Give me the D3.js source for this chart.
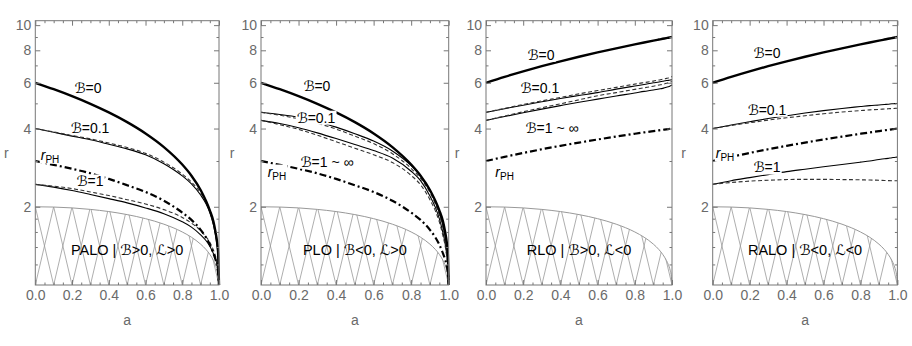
<!DOCTYPE html>
<html>
<head>
<meta charset="utf-8">
<script src="https://cdn.jsdelivr.net/npm/d3@7"></script>
<style>
body { margin: 0; background: #fff; }
text { font-family: "Liberation Sans", Arial, "DejaVu Sans", sans-serif; }
</style>
</head>
<body>
<svg id="chart" width="912" height="346"></svg>
<script>
// spin values shared by every curve
var aGrid = [0, 0.1, 0.2, 0.3, 0.4, 0.5, 0.6, 0.7, 0.8, 0.85, 0.9, 0.93, 0.95, 0.97, 0.98, 0.99, 0.995, 1];

// event horizon (hatched region top)
var horizonR = [2, 1.995, 1.98, 1.954, 1.917, 1.866, 1.8, 1.714, 1.6, 1.527, 1.436, 1.368, 1.312, 1.243, 1.199, 1.141, 1.1, 1];

// B=0 curves
var iscoPro = [6, 5.669, 5.329, 4.979, 4.614, 4.233, 3.829, 3.393, 2.907, 2.634, 2.321, 2.1, 1.937, 1.75, 1.614, 1.455, 1.34, 1];
var iscoRetro = [6, 6.323, 6.639, 6.949, 7.254, 7.555, 7.851, 8.143, 8.432, 8.575, 8.717, 8.802, 8.859, 8.915, 8.944, 8.972, 8.986, 9];

// photon orbit r_PH
var photonPro = [3, 2.9, 2.8, 2.69, 2.56, 2.42, 2.28, 2.11, 1.9, 1.78, 1.63, 1.52, 1.43, 1.32, 1.26, 1.18, 1.12, 1];
var photonRetro = [3, 3.113, 3.221, 3.329, 3.432, 3.532, 3.63, 3.725, 3.819, 3.865, 3.91, 3.937, 3.955, 3.973, 3.982, 3.991, 3.996, 4];

// PALO  (B>0, L>0)
var palo01Solid = [4, 3.87, 3.74, 3.62, 3.48, 3.34, 3.17, 2.93, 2.63, 2.45, 2.22, 2.05, 1.9, 1.7, 1.57, 1.4, 1.28, 1];
var palo01Dashed = [4, 3.88, 3.76, 3.65, 3.52, 3.38, 3.21, 2.97, 2.67, 2.49, 2.26, 2.08, 1.92, 1.72, 1.59, 1.42, 1.29, 1];
var palo1Solid = [2.44, 2.38, 2.31, 2.23, 2.15, 2.07, 1.98, 1.88, 1.75, 1.67, 1.56, 1.48, 1.41, 1.32, 1.27, 1.19, 1.13, 1];
var palo1Dashed = [2.44, 2.4, 2.35, 2.28, 2.21, 2.13, 2.05, 1.95, 1.82, 1.73, 1.62, 1.53, 1.46, 1.36, 1.3, 1.21, 1.14, 1];

// PLO  (B<0, L>0)
var plo01Solid = [4.62, 4.53, 4.42, 4.26, 4.05, 3.82, 3.58, 3.28, 2.88, 2.63, 2.32, 2.08, 1.9, 1.68, 1.55, 1.38, 1.27, 1];
var plo01Dashed = [4.62, 4.5, 4.36, 4.19, 3.98, 3.74, 3.5, 3.2, 2.81, 2.57, 2.27, 2.04, 1.86, 1.65, 1.52, 1.36, 1.26, 1];
var ploInfSolid = [4.3, 4.18, 4.03, 3.85, 3.66, 3.47, 3.29, 3.08, 2.74, 2.52, 2.2, 1.98, 1.8, 1.58, 1.46, 1.3, 1.2, 1];
var ploInfDashed = [4.3, 4.14, 3.97, 3.77, 3.56, 3.36, 3.17, 2.96, 2.64, 2.43, 2.13, 1.92, 1.75, 1.54, 1.43, 1.28, 1.19, 1];

// RLO  (B>0, L<0)
var rlo01Solid = [4.62, 4.77, 4.92, 5.07, 5.22, 5.36, 5.5, 5.67, 5.83, 5.91, 6, 6.04, 6.08, 6.12, 6.13, 6.15, 6.155, 6.16];
var rlo01Dashed = [4.62, 4.78, 4.95, 5.11, 5.27, 5.44, 5.6, 5.76, 5.93, 6.01, 6.09, 6.15, 6.19, 6.24, 6.26, 6.29, 6.31, 6.34];
var rloInfSolid = [4.3, 4.45, 4.6, 4.75, 4.9, 5.05, 5.19, 5.34, 5.48, 5.56, 5.63, 5.68, 5.71, 5.77, 5.79, 5.83, 5.86, 5.89];
var rloInfDashed = [4.3, 4.47, 4.64, 4.81, 4.98, 5.16, 5.35, 5.5, 5.66, 5.74, 5.82, 5.88, 5.92, 5.97, 6, 6.03, 6.05, 6.07];

// RALO  (B<0, L<0)
var ralo01Solid = [4, 4.13, 4.25, 4.37, 4.48, 4.59, 4.69, 4.78, 4.86, 4.9, 4.93, 4.95, 4.96, 4.98, 4.985, 4.99, 4.995, 5];
var ralo01Dashed = [4, 4.11, 4.21, 4.31, 4.4, 4.48, 4.56, 4.63, 4.69, 4.72, 4.74, 4.755, 4.765, 4.775, 4.78, 4.785, 4.787, 4.79];
var ralo1Solid = [2.44, 2.52, 2.59, 2.66, 2.73, 2.79, 2.85, 2.91, 2.97, 3, 3.04, 3.06, 3.07, 3.09, 3.095, 3.1, 3.105, 3.11];
var ralo1Dashed = [2.44, 2.48, 2.51, 2.53, 2.545, 2.55, 2.55, 2.545, 2.54, 2.535, 2.53, 2.525, 2.522, 2.52, 2.52, 2.52, 2.52, 2.52];

// ticks
var xTicks = [0, 0.2, 0.4, 0.6, 0.8, 1];
var xMinorTicks = [0.05, 0.1, 0.15, 0.25, 0.3, 0.35, 0.45, 0.5, 0.55, 0.65, 0.7, 0.75, 0.85, 0.9, 0.95];
var yTicks = [2, 4, 6, 8, 10];
var yMinorTicks = [1.2, 1.4, 1.6, 1.8, 3, 5, 7, 9];

// panels: curves and labels
var panels = [
  { name: "PALO | ℬ>0, ℒ>0",
    curves: [[palo1Solid, "solid"], [palo1Dashed, "dashed"], [photonPro, "dashdot"],
             [palo01Solid, "solid"], [palo01Dashed, "dashed"], [iscoPro, "thick"]],
    labels: [["ℬ=0", 0.287, 5.74], ["ℬ=0.1", 0.298, 4.03], ["rPH", 0.08, 3.17], ["ℬ=1", 0.298, 2.5]] },
  { name: "PLO | ℬ<0, ℒ>0",
    curves: [[photonPro, "dashdot"], [ploInfSolid, "solid"], [ploInfDashed, "dashed"],
             [plo01Solid, "solid"], [plo01Dashed, "dashed"], [iscoPro, "thick"]],
    labels: [["ℬ=0", 0.298, 5.85], ["ℬ=0.1", 0.293, 4.4], ["ℬ=1 ~ ∞", 0.352, 2.98], ["rPH", 0.085, 2.73]] },
  { name: "RLO | ℬ>0, ℒ<0",
    curves: [[photonRetro, "dashdot"], [rloInfSolid, "solid"], [rloInfDashed, "dashed"],
             [rlo01Solid, "solid"], [rlo01Dashed, "dashed"], [iscoRetro, "thick"]],
    labels: [["ℬ=0", 0.296, 7.68], ["ℬ=0.1", 0.29, 5.74], ["ℬ=1 ~ ∞", 0.355, 4.03], ["rPH", 0.1, 2.73]] },
  { name: "RALO | ℬ<0, ℒ<0",
    curves: [[ralo1Solid, "solid"], [ralo1Dashed, "dashed"], [photonRetro, "dashdot"],
             [ralo01Solid, "solid"], [ralo01Dashed, "dashed"], [iscoRetro, "thick"]],
    labels: [["ℬ=0", 0.294, 7.82], ["ℬ=0.1", 0.294, 4.72], ["rPH", 0.067, 3.23], ["ℬ=1", 0.294, 2.83]] }
];

// layout
var panelLeft = [35.3, 261, 486, 712.7];
var panelWidth = [183.7, 187.7, 186, 184.7];
var plotTop = 20.7, plotBottom = 285;

var styles = {
  thick:   { w: 2.4, dash: null, color: "#000" },
  solid:   { w: 1.1, dash: null, color: "#000" },
  dashed:  { w: 1.1, dash: "4,2.5", color: "#333" },
  dashdot: { w: 2.2, dash: "7,3,2,3", color: "#000" }
};

var svg = d3.select("#chart");
var axisGray = "#777";
var labelGray = "#6a6a6a";

var yScale = d3.scaleLog().domain([1, 10.4]).range([plotBottom, plotTop]);

panels.forEach(function(p, i) {
  var x = d3.scaleLinear().domain([0, 1]).range([panelLeft[i], panelLeft[i] + panelWidth[i]]);
  var g = svg.append("g");

  var line = d3.line()
    .x(function(d, k) { return x(aGrid[k]); })
    .y(function(d) { return yScale(d); })
    .curve(d3.curveMonotoneX);

  // clip to horizon region for hatching
  var clipId = "clip" + i;
  var area = d3.area()
    .x(function(d, k) { return x(aGrid[k]); })
    .y0(yScale(1))
    .y1(function(d) { return yScale(d); })
    .curve(d3.curveMonotoneX);
  svg.append("clipPath").attr("id", clipId)
    .append("path").attr("d", area(horizonR));

  var hatch = g.append("g").attr("clip-path", "url(#" + clipId + ")");
  d3.range(0, 10).forEach(function(k) {
    var a0 = k / 10, a1 = (k + 1) / 10;
    hatch.append("line")
      .attr("x1", x(a0)).attr("y1", yScale(2))
      .attr("x2", x(a1)).attr("y2", yScale(1));
    hatch.append("line")
      .attr("x1", x(a1)).attr("y1", yScale(2))
      .attr("x2", x(a0)).attr("y2", yScale(1));
  });
  hatch.selectAll("line").attr("stroke", "#999").attr("stroke-width", 0.8);

  g.append("path")
    .attr("d", line(horizonR))
    .attr("fill", "none")
    .attr("stroke", "#999")
    .attr("stroke-width", 1);

  // curves
  p.curves.forEach(function(c) {
    var s = styles[c[1]];
    g.append("path")
      .attr("d", line(c[0]))
      .attr("fill", "none")
      .attr("stroke", s.color)
      .attr("stroke-width", s.w)
      .attr("stroke-dasharray", s.dash);
  });

  // frame + ticks
  var frame = g.append("g").attr("class", "frame");
  frame.append("g").attr("transform", "translate(0," + plotBottom + ")")
    .call(d3.axisBottom(x).tickValues(xTicks).tickSizeInner(-5).tickSizeOuter(0).tickPadding(5).tickFormat(d3.format(".1f")));
  frame.append("g").attr("transform", "translate(0," + plotBottom + ")")
    .call(d3.axisBottom(x).tickValues(xMinorTicks).tickSizeInner(-2.5).tickSizeOuter(0).tickFormat(""));
  frame.append("g").attr("transform", "translate(0," + plotTop + ")")
    .call(d3.axisTop(x).tickValues(xTicks).tickSizeInner(-5).tickSizeOuter(0).tickFormat(""));
  frame.append("g").attr("transform", "translate(0," + plotTop + ")")
    .call(d3.axisTop(x).tickValues(xMinorTicks).tickSizeInner(-2.5).tickSizeOuter(0).tickFormat(""));
  frame.append("g").attr("transform", "translate(" + panelLeft[i] + ",0)")
    .call(d3.axisLeft(yScale).tickValues(yTicks).tickSizeInner(-5).tickSizeOuter(0).tickPadding(4).tickFormat(d3.format("d")));
  frame.append("g").attr("transform", "translate(" + panelLeft[i] + ",0)")
    .call(d3.axisLeft(yScale).tickValues(yMinorTicks).tickSizeInner(-2.5).tickSizeOuter(0).tickFormat(""));
  frame.append("g").attr("transform", "translate(" + (panelLeft[i] + panelWidth[i]) + ",0)")
    .call(d3.axisRight(yScale).tickValues(yTicks).tickSizeInner(-5).tickSizeOuter(0).tickFormat(""));
  frame.append("g").attr("transform", "translate(" + (panelLeft[i] + panelWidth[i]) + ",0)")
    .call(d3.axisRight(yScale).tickValues(yMinorTicks).tickSizeInner(-2.5).tickSizeOuter(0).tickFormat(""));
  frame.selectAll(".domain").remove();
  frame.selectAll("line").attr("stroke", axisGray);
  frame.selectAll("text").attr("fill", labelGray).attr("font-size", 14)
    .attr("font-family", "'Liberation Sans', Arial, sans-serif");

  frame.append("rect")
    .attr("x", panelLeft[i]).attr("y", plotTop)
    .attr("width", panelWidth[i]).attr("height", plotBottom - plotTop)
    .attr("fill", "none").attr("stroke", axisGray).attr("stroke-width", 1);

  // axis titles
  g.append("text")
    .attr("x", panelLeft[i] - 29).attr("y", 158)
    .attr("text-anchor", "middle").attr("fill", labelGray).attr("font-size", 14)
    .text("r");
  g.append("text")
    .attr("x", x(0.5)).attr("y", 325)
    .attr("text-anchor", "middle").attr("fill", labelGray).attr("font-size", 14)
    .text("a");

  // region name on the hatch
  g.append("text")
    .attr("x", x(0.5)).attr("y", yScale(1.37)).attr("dy", "0.35em")
    .attr("text-anchor", "middle").attr("font-size", 14.5).attr("fill", "#000")
    .text(p.name);

  // curve labels with white boxes
  p.labels.forEach(function(l) {
    var lg = g.append("g");
    var t = lg.append("text")
      .attr("x", x(l[1])).attr("y", yScale(l[2])).attr("dy", "0.35em")
      .attr("text-anchor", "middle").attr("font-size", 14).attr("fill", "#000");
    if (l[0] === "rPH") {
      t.append("tspan").attr("font-style", "italic").text("r");
      t.append("tspan").attr("font-size", 10).attr("dy", 3).text("PH");
    } else {
      t.text(l[0]);
    }
    var bb = t.node().getBBox();
    lg.insert("rect", "text")
      .attr("x", bb.x - 1).attr("y", bb.y + 1)
      .attr("width", bb.width + 2).attr("height", bb.height - 2)
      .attr("fill", "#fff");
  });
});
</script>
</body>
</html>
